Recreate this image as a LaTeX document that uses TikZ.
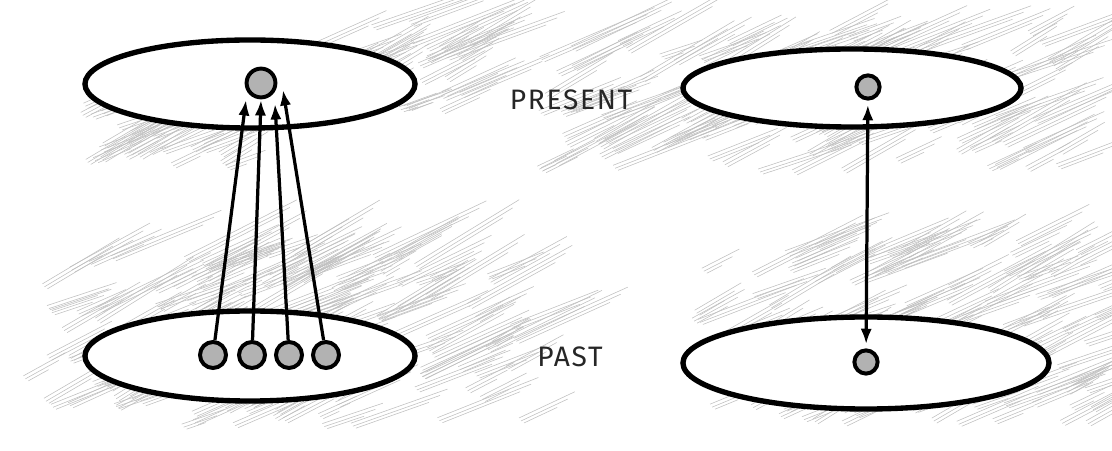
\documentclass[tikz,border=0pt]{standalone}
\usepackage{fontspec}
\setmainfont{Fira Sans}[LetterSpace=6]
\usetikzlibrary{positioning}
\usetikzlibrary{arrows.meta}
\usetikzlibrary{shapes.geometric}

% pencil shading: x0 y0 x1 y1 count
\newcommand{\pencilhatch}[5]{%
  \foreach \i in {1,...,#5}{%
    \pgfmathsetmacro{\hx}{#1+rnd*(#3-#1)}%
    \pgfmathsetmacro{\hy}{#2+rnd*(#4-#2)}%
    \pgfmathsetmacro{\hl}{40+rnd*90}%
    \pgfmathsetmacro{\ha}{-18-rnd*14}%
    \draw[pencil] (\hx,\hy) -- ++(\ha:\hl);
    \draw[pencil] (\hx+2,\hy+3) -- ++(\ha:\hl-10);
    \draw[pencil] (\hx+5,\hy+5) -- ++(\ha:\hl-25);
  }}

\tikzset{
  pencil/.style={gray!50, line width=0.4pt},
  plane/.style={ellipse, draw=black, fill=white, line width=3.8pt, inner sep=0pt},
  dot/.style={circle, draw=black, fill=gray!60, line width=2.8pt, inner sep=0pt, minimum size=0.65cm},
  ray/.style={-{Latex[length=11pt,width=8pt]}, line width=2.3pt},
  tag/.style={font=\fontsize{20}{22}\selectfont, text=black!85}
}

\begin{document}
\begin{tikzpicture}[x=0.025cm, y=-0.025cm]
    \useasboundingbox (0,0) rectangle (1112,451);
    \pgfmathsetseed{7}

    % shading
    \pencilhatch{80}{100}{260}{165}{40}
    \pencilhatch{300}{20}{470}{110}{35}
    \pencilhatch{20}{250}{520}{425}{150}
    \pencilhatch{530}{30}{1060}{170}{120}
    \pencilhatch{690}{240}{1100}{425}{130}

    % planes
    \node[plane, minimum width=8.25cm, minimum height=2.2cm] (presentL) at (250,84) {};
    \node[plane, minimum width=8.25cm, minimum height=2.25cm] (pastL) at (250,356) {};
    \node[plane, minimum width=8.45cm, minimum height=1.95cm] (presentR) at (852,88) {};
    \node[plane, minimum width=9.15cm, minimum height=2.3cm] (pastR) at (866,363) {};

    % labels
    \node[tag] (present) at (571,100) {PRESENT};
    \node[tag] (past) at (570,357) {PAST};

    % left: many causes
    \node[dot, minimum size=0.72cm] (now) at (261,83) {};
    \node[dot] (c1) at (213,355) {};
    \node[dot] (c2) at (252,355) {};
    \node[dot] (c3) at (289,355) {};
    \node[dot] (c4) at (326,355) {};
    \coordinate (t1) at (246,100);
    \coordinate (t2) at (261,100);
    \coordinate (t3) at (275,104);
    \coordinate (t4) at (283,90);
    \draw[ray] (c1) -- (t1);
    \draw[ray] (c2) -- (t2);
    \draw[ray] (c3) -- (t3);
    \draw[ray] (c4) -- (t4);

    % right: one link
    \node[dot, minimum size=0.58cm] (nowR) at (868,87) {};
    \node[dot, minimum size=0.58cm] (thenR) at (866,362) {};
    \draw[ray, {Latex[length=11pt,width=8pt]}-{Latex[length=11pt,width=8pt]}, shorten <=3pt, shorten >=3pt] (nowR) -- (thenR);
\end{tikzpicture}
\end{document}
